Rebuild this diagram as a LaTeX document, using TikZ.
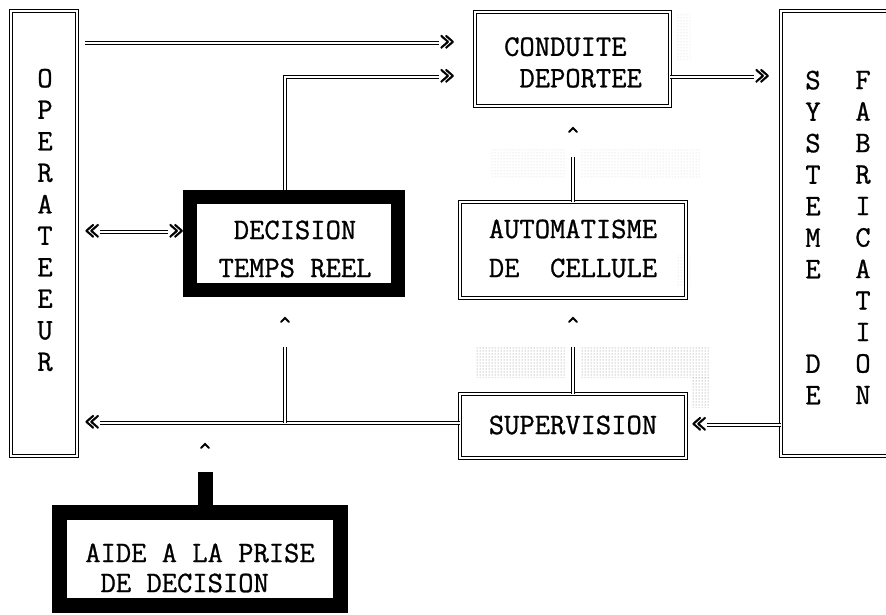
\documentclass[tikz,border=0pt]{standalone}
\usepackage{fontspec}
\setmonofont{Latin Modern Mono}[FakeBold=0.9]
\usetikzlibrary{patterns}
\begin{document}
\begin{tikzpicture}[x=1pt,y=-1pt,
  dbox/.style={draw, double, line width=0.8pt, double distance=2.4pt, inner sep=0pt, outer sep=0pt},
  tbox/.style={draw, line width=14pt, inner sep=0pt, outer sep=0pt},
  dline/.style={draw, double, line width=0.8pt, double distance=2.4pt},
  txt/.style={font=\ttfamily\fontsize{29.7}{31.5}\selectfont, inner sep=0pt, align=center},
  gm/.style={font=\ttfamily\fontsize{30}{30}\selectfont, inner sep=0pt},
  caret/.style={line width=1.8pt, line cap=round},
  stip/.style={pattern=dots, pattern color=gray},
  faint/.style={pattern=dots, pattern color=gray!35}
]
\useasboundingbox (0,0) rectangle (886,615);
\fill[white] (0,0) rectangle (886,615);
\clip (0,0) rectangle (886,615);

% halftone patches
\fill[stip] (475,347) rectangle (566,377);
\fill[stip] (581,347) rectangle (710,377);
\fill[stip] (692,377) rectangle (710,407);
\fill[faint] (490,150) rectangle (566,178);
\fill[faint] (581,150) rectangle (700,178);
\fill[faint] (677,15) rectangle (690,60);
\fill[faint] (677,255) rectangle (690,285);

% boxes
\node[dbox, minimum width=66pt, minimum height=445pt] (op) at (44,233.5) {};
\node[txt] (opT) at (45,220) {O\\P\\E\\R\\A\\T\\E\\E\\U\\R};

\node[dbox, minimum width=117pt, minimum height=445pt] (sys) at (839.5,233.5) {};
\node[txt] (sysA) at (813,237.5) {S\\Y\\S\\T\\E\\M\\E\\~\\~\\D\\E};
\node[txt] (sysB) at (863,237.5) {F\\A\\B\\R\\I\\C\\A\\T\\I\\O\\N};

\node[dbox, minimum width=195pt, minimum height=94pt] (cond) at (572.5,59) {};
\node[txt] (condT) at (573,62.5) {CONDUITE\hphantom{X}\\\hphantom{X}DEPORTEE};

\node[dbox, minimum width=226pt, minimum height=96pt] (auto) at (573,250) {};
\node[txt, font=\ttfamily\fontsize{29.7}{39}\selectfont] (autoT) at (573,248.5) {AUTOMATISME\\DE\ \ CELLULE};

\node[dbox, minimum width=226pt, minimum height=64pt] (sup) at (573,426) {};
\node[txt] (supT) at (573,425) {SUPERVISION};

\node[tbox, minimum width=208pt, minimum height=93pt] (dec) at (294,243.5) {};
\node[txt, font=\ttfamily\fontsize{29.7}{38}\selectfont] (decT) at (295,249) {DECISION\\TEMPS REEL};

\node[tbox, line width=15pt, minimum width=281pt, minimum height=93pt] (aide) at (200,559) {};
\node[txt, align=left, font=\ttfamily\fontsize{29.7}{30}\selectfont] (aideT) at (200,568) {AIDE A LA PRISE\\\hphantom{X}DE DECISION};

% arrow glyphs
\node[gm] (g1) at (447,43) {»};
\node[gm] (g2) at (447,77) {»};
\node[gm] (g3l) at (92,232) {«};
\node[gm] (g3r) at (176,232) {»};
\node[gm] (g4) at (762,77) {»};
\node[gm] (g7) at (92,423) {«};
\node[gm] (g9) at (699,425) {«};

% named free ends
\coordinate (c2) at (285,77);
\coordinate (decTop) at ([yshift=7pt]dec.north);
\coordinate (c5) at (573,157);
\coordinate (c6) at (573,347);
\coordinate (j8) at (285,423);
\coordinate (c8) at (285,347);
\coordinate (b10) at (205,472);
\coordinate (k5) at (573,130);
\coordinate (k6) at (573,320);
\coordinate (k8) at (285,320);
\coordinate (k10) at (205,446);

% connectors
\draw[dline] (op.east |- g1) ++(8,0) -- (g1.west);
\draw[dline] (decTop -| c2) -- (c2) -- (c2 -| g2.west);
\draw[dline] (g3l.east) -- (g3r.west);
\draw[dline] (cond.east |- g4) -- (g4.west);
\draw[dline] (auto.north) -- (c5);
\draw[dline] (sup.north) -- (c6);
\draw[dline] (sup.west |- g7) -- (g7.east);
\draw[dline] (j8) -- (c8);
\draw[dline] (sys.west |- g9) -- (g9.east);
\draw[line width=15pt] (aide.north -| b10) -- (b10);

% carets
\foreach \k in {k5,k6,k8,k10} \draw[caret] (\k) ++(-4,2) -- ++(4,-4) -- ++(4,4);
\end{tikzpicture}
\end{document}
